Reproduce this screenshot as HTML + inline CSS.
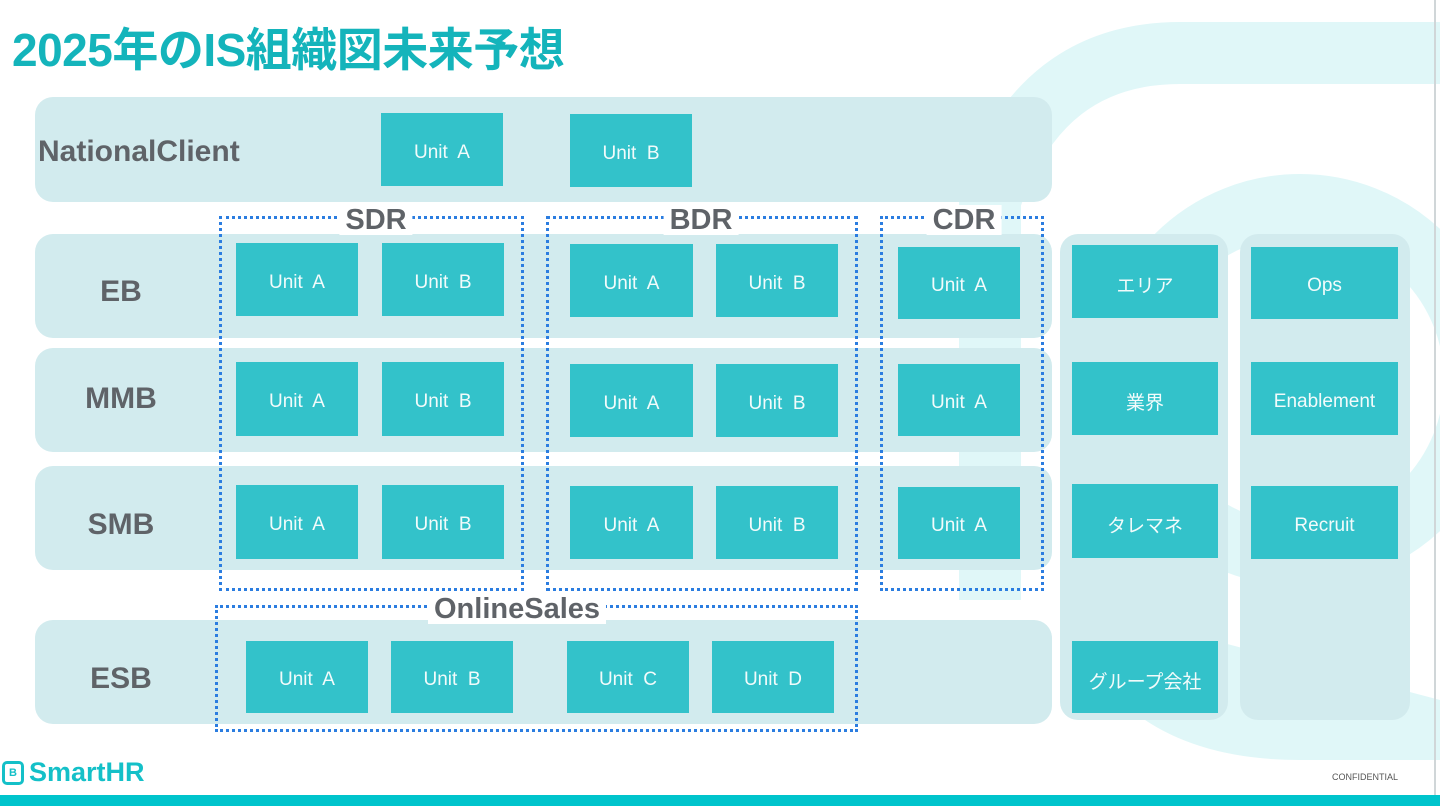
<!DOCTYPE html>
<html><head><meta charset="utf-8"><style>
*{margin:0;padding:0;box-sizing:border-box}
body{width:1440px;height:806px;position:relative;overflow:hidden;background:#fff;font-family:"Liberation Sans","Noto Sans CJK JP",sans-serif}
.a{position:absolute}
.band{position:absolute;background:#d2ebee;border-radius:18px}
.lab{position:absolute;color:#5f6368;font-weight:bold;font-size:30px;text-align:center}
.u{position:absolute;background:#33c2ca;color:#f2fbfb;font-size:19px;display:flex;align-items:center;justify-content:center;white-space:nowrap;padding-top:6px}
.dot{position:absolute;border:3px dotted #2b7de0}
.dl{position:absolute;background:#fff;color:#5f6368;font-weight:bold;font-size:29px;padding:0 6px;line-height:30px;transform:translateX(-50%)}
</style></head><body>
<svg class="a" style="left:0;top:0" width="1440" height="806">
<path d="M1440 53 L1180 53 Q1040 53 990 200 L990 600" stroke="#e0f7f8" stroke-width="62" fill="none"/>
<circle cx="1300" cy="380" r="175" stroke="#e0f7f8" stroke-width="62" fill="none"/>
<path d="M1060 600 Q1110 760 1300 760 L1440 760 L1440 700" fill="#e0f7f8"/>
</svg>
<div class="a" style="left:1434px;top:0;width:2px;height:795px;background:#d0d6d8"></div>
<div class="a" style="left:12px;top:14px;color:#14b4bb;font-weight:bold;font-size:46px;letter-spacing:-0.5px">2025年のIS組織図未来予想</div>

<div class="band" style="left:35px;top:97px;width:1017px;height:105px"></div>
<div class="band" style="left:35px;top:234px;width:1017px;height:104px"></div>
<div class="band" style="left:35px;top:348px;width:1017px;height:104px"></div>
<div class="band" style="left:35px;top:466px;width:1017px;height:104px"></div>
<div class="band" style="left:35px;top:620px;width:1017px;height:104px"></div>
<div class="band" style="left:1060px;top:234px;width:168px;height:486px"></div>
<div class="band" style="left:1240px;top:234px;width:170px;height:486px"></div>

<div class="lab" style="left:38px;top:135px;text-align:left">NationalClient</div>
<div class="lab" style="left:35px;top:275px;width:172px">EB</div>
<div class="lab" style="left:35px;top:382px;width:172px">MMB</div>
<div class="lab" style="left:35px;top:508px;width:172px">SMB</div>
<div class="lab" style="left:35px;top:662px;width:172px">ESB</div>

<div class="u" style="left:381px;top:113px;width:122px;height:73px">Unit&nbsp; A</div>
<div class="u" style="left:570px;top:114px;width:122px;height:73px">Unit&nbsp; B</div>

<div class="u" style="left:236px;top:243px;width:122px;height:73px">Unit&nbsp; A</div>
<div class="u" style="left:382px;top:243px;width:122px;height:73px">Unit&nbsp; B</div>
<div class="u" style="left:570px;top:244px;width:123px;height:73px">Unit&nbsp; A</div>
<div class="u" style="left:716px;top:244px;width:122px;height:73px">Unit&nbsp; B</div>
<div class="u" style="left:898px;top:247px;width:122px;height:72px">Unit&nbsp; A</div>
<div class="u" style="left:1072px;top:245px;width:146px;height:73px">エリア</div>
<div class="u" style="left:1251px;top:247px;width:147px;height:72px">Ops</div>

<div class="u" style="left:236px;top:362px;width:122px;height:74px">Unit&nbsp; A</div>
<div class="u" style="left:382px;top:362px;width:122px;height:74px">Unit&nbsp; B</div>
<div class="u" style="left:570px;top:364px;width:123px;height:73px">Unit&nbsp; A</div>
<div class="u" style="left:716px;top:364px;width:122px;height:73px">Unit&nbsp; B</div>
<div class="u" style="left:898px;top:364px;width:122px;height:72px">Unit&nbsp; A</div>
<div class="u" style="left:1072px;top:362px;width:146px;height:73px">業界</div>
<div class="u" style="left:1251px;top:362px;width:147px;height:73px">Enablement</div>

<div class="u" style="left:236px;top:485px;width:122px;height:74px">Unit&nbsp; A</div>
<div class="u" style="left:382px;top:485px;width:122px;height:74px">Unit&nbsp; B</div>
<div class="u" style="left:570px;top:486px;width:123px;height:73px">Unit&nbsp; A</div>
<div class="u" style="left:716px;top:486px;width:122px;height:73px">Unit&nbsp; B</div>
<div class="u" style="left:898px;top:487px;width:122px;height:72px">Unit&nbsp; A</div>
<div class="u" style="left:1072px;top:484px;width:146px;height:74px">タレマネ</div>
<div class="u" style="left:1251px;top:486px;width:147px;height:73px">Recruit</div>

<div class="u" style="left:246px;top:641px;width:122px;height:72px">Unit&nbsp; A</div>
<div class="u" style="left:391px;top:641px;width:122px;height:72px">Unit&nbsp; B</div>
<div class="u" style="left:567px;top:641px;width:122px;height:72px">Unit&nbsp; C</div>
<div class="u" style="left:712px;top:641px;width:122px;height:72px">Unit&nbsp; D</div>
<div class="u" style="left:1072px;top:641px;width:146px;height:72px">グループ会社</div>

<div class="dot" style="left:219px;top:216px;width:305px;height:375px"></div>
<div class="dot" style="left:546px;top:216px;width:312px;height:375px"></div>
<div class="dot" style="left:880px;top:216px;width:164px;height:375px"></div>
<div class="dot" style="left:215px;top:605px;width:643px;height:127px"></div>
<div class="dl" style="left:376px;top:205px">SDR</div>
<div class="dl" style="left:701px;top:205px">BDR</div>
<div class="dl" style="left:964px;top:205px">CDR</div>
<div class="dl" style="left:517px;top:594px">OnlineSales</div>

<div class="a" style="left:2px;top:761px;width:22px;height:24px;border:3px solid #14c0c8;border-radius:5px;color:#14c0c8;font-size:11px;font-weight:bold;text-align:center;line-height:18px">B</div>
<div class="a" style="left:29px;top:757px;color:#14c0c8;font-weight:bold;font-size:27px">SmartHR</div>
<div class="a" style="left:1332px;top:772px;color:#555;font-size:9px">CONFIDENTIAL</div>
<div class="a" style="left:0;top:795px;width:1440px;height:11px;background:#00c4cc"></div>
</body></html>
